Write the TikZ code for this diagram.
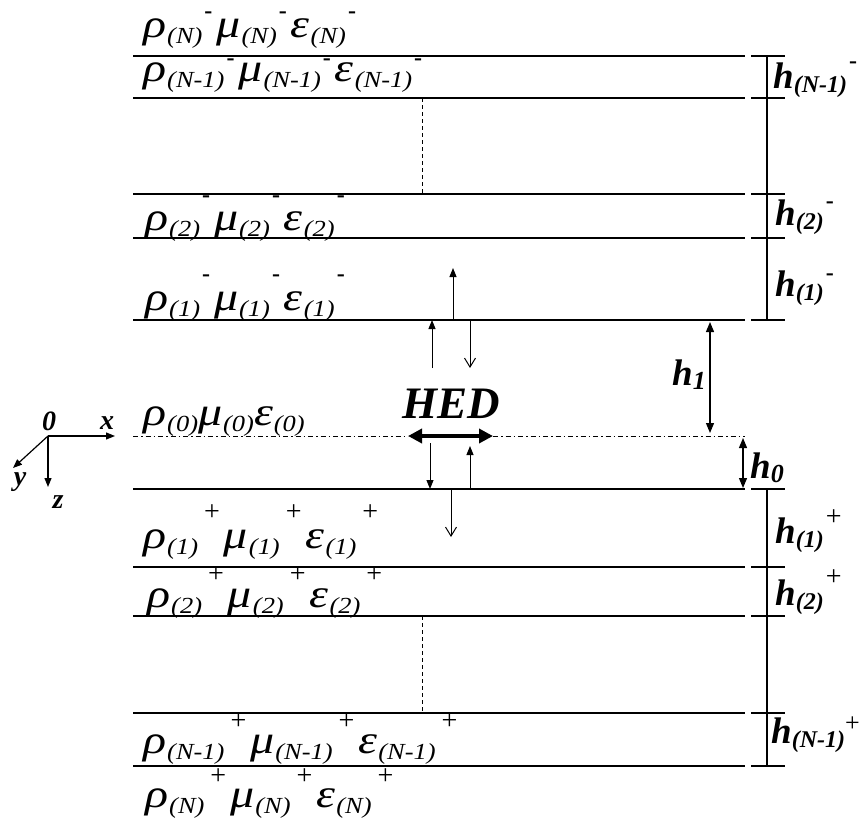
\documentclass[tikz,border=0pt]{standalone}
\usepackage{fontspec}
\setmainfont{Liberation Serif}
\newfontfamily\grfont[FakeStretch=1.2]{Liberation Serif}
\newfontfamily\sbfont[FakeStretch=1.15]{Liberation Serif}
\usetikzlibrary{arrows.meta}
\newcommand{\Gk}[1]{{\grfont\fontsize{40}{42}\selectfont\itshape #1}}
\newcommand{\Sb}[1]{\raisebox{-6pt}{\sbfont\fontsize{23}{24}\selectfont\itshape #1}}
\newcommand{\mn}{{\fontsize{24}{24}\selectfont\bfseries -}}
\newcommand{\pl}{{\fontsize{28}{28}\selectfont +}}
\newcommand{\gm}[3]{\Gk{#1}\kern1pt\Sb{#2}\kern2pt\raisebox{#3}[0pt][0pt]{\mn}\kern4pt}
\newcommand{\gp}[3]{\Gk{#1}\kern1pt\Sb{#2}\kern6pt\raisebox{#3}[0pt][0pt]{\pl}\kern4pt}
\newcommand{\gz}[2]{\Gk{#1}\kern1pt\Sb{#2}}
\newcommand{\Hh}[3]{{\fontsize{37}{38}\selectfont\bfseries\itshape h}\raisebox{-4pt}{\fontsize{24}{25}\selectfont\bfseries\itshape #1}\kern2pt\raisebox{#2}[0pt][0pt]{#3}}
\tikzset{
  layer/.style={line width=1.3pt},
  tick/.style={line width=1.3pt},
  thinarr/.style={line width=1pt,-{Triangle[length=9pt,width=7pt]}},
  openarr/.style={line width=1pt,-{Straight Barb[length=9pt,width=11pt]}},
  dimarr/.style={line width=1.2pt,{Triangle[length=10pt,width=8pt]}-{Triangle[length=10pt,width=8pt]}},
  hed/.style={line width=3.5pt,{Triangle[length=14pt,width=14pt]}-{Triangle[length=14pt,width=14pt]}},
  axarr/.style={line width=1.2pt,-{Triangle[length=9pt,width=7pt]}},
  lab/.style={inner sep=0pt,anchor=base west},
  axlab/.style={inner sep=0pt,font=\fontsize{28}{28}\selectfont\bfseries\itshape},
  dashdot/.style={line width=1pt,dash pattern=on 5pt off 3pt on 1.5pt off 3pt},
  vdash/.style={line width=1pt,dash pattern=on 4pt off 3pt}
}
\begin{document}
\begin{tikzpicture}[x=1pt,y=-1pt]
\useasboundingbox (0,0) rectangle (863,819);
% layer boundaries and right-hand ticks
\foreach \n/\yy in {A/56,B/98,C/194,D/238,E/320,F/489,G/567,H/616,I/713,J/766}{
  \coordinate (\n l) at (133,\yy);
  \coordinate (\n r) at (745,\yy);
  \coordinate (\n t1) at (751,\yy);
  \coordinate (\n t2) at (785,\yy);
  \coordinate (\n v) at (767,\yy);
  \draw[layer] (\n l) -- (\n r);
  \draw[tick] (\n t1) -- (\n t2);
}
\draw[line width=1.1pt] (Av) -- (Ev);
\draw[line width=1.1pt] (Fv) -- (Jv);
% source plane
\coordinate (Dl) at (133,436);
\coordinate (Dr) at (745,436);
\coordinate (hedL) at (408,436);
\coordinate (hedR) at (493,436);
\draw[dashdot] (Dl) -- (hedL);
\draw[dashdot] (hedR) -- (Dr);
\draw[hed] (hedL) -- (hedR);
\node[lab,font=\fontsize{45}{46}\selectfont\bfseries\itshape] (hedtxt) at (402,418) {HED};
% dashed continuation
\coordinate (d1a) at (422,98); \coordinate (d1b) at (422,194);
\coordinate (d2a) at (422,616); \coordinate (d2b) at (422,713);
\draw[vdash] (d1a) -- (d1b);
\draw[vdash] (d2a) -- (d2b);
% wave arrows
\coordinate (a1s) at (453,320); \coordinate (a1e) at (453,268);
\coordinate (a2s) at (432,368); \coordinate (a2e) at (432,320);
\coordinate (a3s) at (470,320); \coordinate (a3e) at (470,368);
\coordinate (a4s) at (430,443); \coordinate (a4e) at (430,489);
\coordinate (a5s) at (470,489); \coordinate (a5e) at (470,446);
\coordinate (a6s) at (451,489); \coordinate (a6e) at (451,537);
\draw[thinarr] (a1s) -- (a1e);
\draw[thinarr] (a2s) -- (a2e);
\draw[openarr] (a3s) -- (a3e);
\draw[thinarr] (a4s) -- (a4e);
\draw[thinarr] (a5s) -- (a5e);
\draw[openarr] (a6s) -- (a6e);
% h1 and h0 dimension arrows
\coordinate (h1a) at (710,322); \coordinate (h1b) at (710,433);
\coordinate (h0a) at (743,438); \coordinate (h0b) at (743,488);
\draw[dimarr] (h1a) -- (h1b);
\draw[dimarr] (h0a) -- (h0b);
% axes
\coordinate (O) at (48,436);
\coordinate (Xe) at (115,436);
\coordinate (Ye) at (13,468);
\coordinate (Ze) at (48,487);
\draw[axarr] (O) -- (Xe);
\draw[axarr] (O) -- (Ye);
\draw[axarr] (O) -- (Ze);
\node[axlab] (l0) at (49,421) {0};
\node[axlab] (lx) at (107,423) {x};
\node[axlab] (ly) at (20,482) {y};
\node[axlab] (lz) at (58,502) {z};
% layer parameter labels
\node[lab] (rN) at (143,37) {\gm{ρ}{(N)}{19pt}\gm{μ}{(N)}{19pt}\gm{ε}{(N)}{19pt}};
\node[lab] (rNm) at (143,81) {\gm{ρ}{(N-1)}{16pt}\gm{μ}{(N-1)}{16pt}\gm{ε}{(N-1)}{16pt}};
\node[lab] (r2m) at (145,230) {\gm{ρ}{(2)}{28pt}\gm{μ}{(2)}{28pt}\gm{ε}{(2)}{28pt}};
\node[lab] (r1m) at (145,310) {\gm{ρ}{(1)}{29pt}\gm{μ}{(1)}{29pt}\gm{ε}{(1)}{29pt}};
\node[lab] (r0) at (143,425) {\gz{ρ}{(0)}\gz{μ}{(0)}\gz{ε}{(0)}};
\node[lab] (r1p) at (143,548) {\gp{ρ}{(1)}{28pt}\gp{μ}{(1)}{28pt}\gp{ε}{(1)}{28pt}};
\node[lab] (r2p) at (147,607) {\gp{ρ}{(2)}{25pt}\gp{μ}{(2)}{25pt}\gp{ε}{(2)}{25pt}};
\node[lab] (rNmp) at (143,753) {\gp{ρ}{(N-1)}{24pt}\gp{μ}{(N-1)}{24pt}\gp{ε}{(N-1)}{24pt}};
\node[lab] (rNp) at (145,807) {\gp{ρ}{(N)}{23pt}\gp{μ}{(N)}{23pt}\gp{ε}{(N)}{23pt}};
% thickness labels
\node[lab] (hNm) at (773,88) {\Hh{(N-1)}{20pt}{\mn}};
\node[lab] (h2m) at (775,225) {\Hh{(2)}{17pt}{\mn}};
\node[lab] (h1m) at (775,296) {\Hh{(1)}{16pt}{\mn}};
\node[lab] (h1) at (672,385) {{\fontsize{37}{38}\selectfont\bfseries\itshape h}\raisebox{-4pt}{\fontsize{26}{26}\selectfont\bfseries\itshape 1}};
\node[lab] (h0) at (750,478) {{\fontsize{37}{38}\selectfont\bfseries\itshape h}\raisebox{-4pt}{\fontsize{26}{26}\selectfont\bfseries\itshape 0}};
\node[lab] (h1p) at (775,543) {\Hh{(1)}{18pt}{\pl}};
\node[lab] (h2p) at (775,605) {\Hh{(2)}{20pt}{\pl}};
\node[lab] (hNp) at (771,743) {{\fontsize{37}{38}\selectfont\bfseries\itshape h}\raisebox{-4pt}{\fontsize{24}{25}\selectfont\bfseries\itshape (N-1)}\raisebox{12pt}[0pt][0pt]{\fontsize{26}{26}\selectfont +}};
\end{tikzpicture}
\end{document}
